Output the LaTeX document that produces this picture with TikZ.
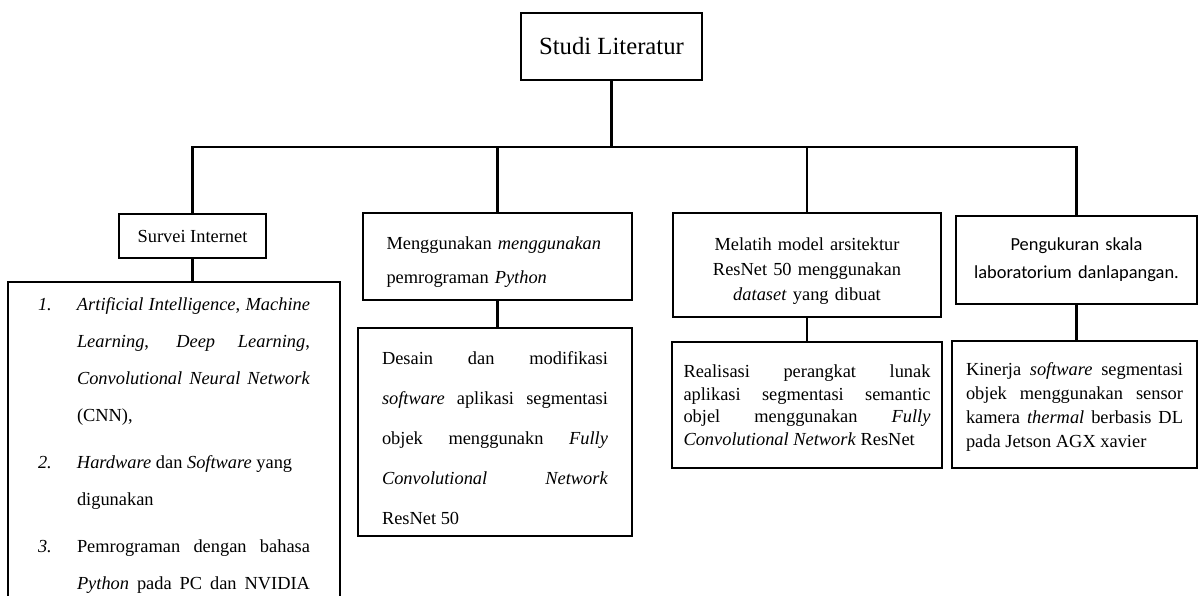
\documentclass[tikz,border=0pt]{standalone}
\usepackage{fontspec}
\setmainfont{Liberation Serif}
\newfontfamily\calibrifont{Carlito}

\newcommand{\butir}[2]{\noindent\hangindent=39pt\hangafter=1\makebox[39pt][l]{\textit{#1.}}#2\par}

\tikzset{
  kotak/.style={draw, line width=2.5pt, outer sep=0pt, inner sep=0pt, anchor=north west},
  teks/.style={font=\fontsize{18.4}{#1}\selectfont},
  garis/.style={line width=2.4pt},
}

\begin{document}
\begin{tikzpicture}[x=1pt,y=-1pt]
\useasboundingbox (0,0) rectangle (1198,595);

\node[kotak, minimum width=181pt, minimum height=67pt, font=\fontsize{24.7}{30}\selectfont] (lit) at (521,13) {Studi Literatur};

\node[kotak, minimum width=147pt, minimum height=44pt, teks=22] (survei) at (119,214) {Survei Internet};
\node[kotak, minimum width=269pt, minimum height=87pt, text width=222pt, inner xsep=23.5pt, align=left, teks=34] (python) at (363,213) {\rule{0pt}{24pt}Menggunakan \textit{menggunakan}\\ pemrograman \textit{Python}};
\node[kotak, minimum width=268pt, minimum height=104pt, text width=240pt, inner xsep=14pt, align=center, teks=25] (melatih) at (673,213) {\rule{0pt}{24pt}Melatih model arsitektur\\ ResNet 50 menggunakan\\ \textit{dataset} yang dibuat};
\node[kotak, minimum width=241pt, minimum height=88pt, text width=221pt, inner xsep=10pt, align=center, font=\calibrifont\fontsize{18.4}{28}\selectfont] (ukur) at (956,216) {Pengukuran skala\\ laboratorium danlapangan.};

\node[kotak, text width=272pt, inner xsep=30pt, inner ysep=16pt, align=justify, teks=37] (ai) at (8,282) {\setlength{\parskip}{10pt}%
\butir{1}{\textit{Artificial Intelligence}, \textit{Machine}\linebreak \textit{Learning}, \textit{Deep Learning},\linebreak \textit{Convolutional Neural Network}\linebreak (CNN),}
\butir{2}{\textit{Hardware} dan \textit{Software} yang\\ digunakan}
\butir{3}{\parfillskip=0pt Pemrograman dengan bahasa\linebreak \textit{Python} pada PC dan NVIDIA}};
\node[kotak, minimum width=274pt, minimum height=208pt, text width=226pt, inner xsep=24pt, align=justify, teks=40] (desain) at (358,328) {\rule{0pt}{26pt}Desain dan modifikasi\linebreak \textit{software} aplikasi segmentasi\linebreak objek menggunakn \textit{Fully}\linebreak \textit{Convolutional Network}\linebreak ResNet 50};
\node[kotak, minimum width=270pt, minimum height=126pt, text width=247pt, inner xsep=11.5pt, align=justify, teks=22.5] (realisasi) at (672,342) {Realisasi perangkat lunak\linebreak aplikasi segmentasi semantic\linebreak objel menggunakan \textit{Fully}\linebreak \textit{Convolutional Network} ResNet};
\node[kotak, minimum width=245pt, minimum height=127pt, text width=217pt, inner xsep=14pt, align=justify, teks=24] (kinerja) at (952,341) {\rule{0pt}{18pt}Kinerja \textit{software} segmentasi\linebreak objek menggunakan sensor\linebreak kamera \textit{thermal} berbasis DL\linebreak pada Jetson AGX xavier};

\coordinate (bus) at (617,147);
\draw[garis] (lit.south) -- (lit.south |- bus);
\draw[garis] (survei.north) |- (bus) -| (ukur.north);
\draw[garis] (python.north) -- (python.north |- bus);
\draw[garis] (melatih.north) -- (melatih.north |- bus);

\draw[garis] (survei.south) -- (survei.south |- ai.north);
\draw[garis] (python.south) -- (python.south |- desain.north);
\draw[garis] (melatih.south) -- (melatih.south |- realisasi.north);
\draw[garis] (ukur.south) -- (ukur.south |- kinerja.north);
\end{tikzpicture}
\end{document}
